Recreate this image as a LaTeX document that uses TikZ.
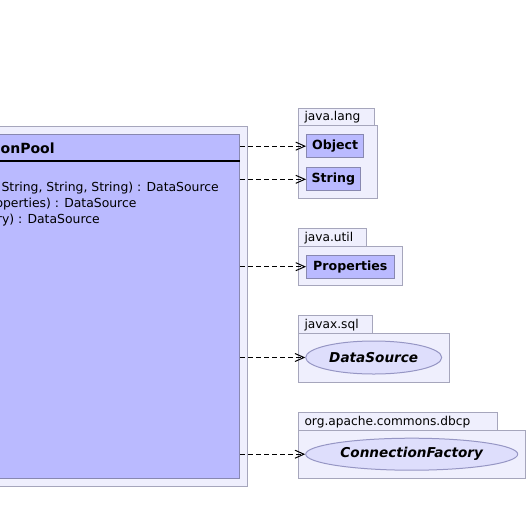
\documentclass[tikz,border=0pt]{standalone}
\usepackage{fontspec}
\setmainfont{DejaVu Sans}
\usetikzlibrary{arrows.meta,shapes.geometric}

\definecolor{clsfill}{RGB}{186,186,255}
\definecolor{clsline}{RGB}{136,136,176}
\definecolor{pkgfill}{RGB}{239,239,253}
\definecolor{pkgline}{RGB}{166,166,188}
\definecolor{intffill}{RGB}{222,222,252}
\definecolor{intfline}{RGB}{150,150,196}

\tikzset{
  pkgbody/.style={draw=pkgline, fill=pkgfill, line width=1pt, anchor=north west, inner sep=0pt},
  pkgtab/.style={draw=pkgline, fill=pkgfill, line width=1pt, anchor=north west, inner xsep=6pt, inner ysep=0pt,
    align=left, font=\fontsize{12.2}{14}\selectfont},
  clsbox/.style={draw=clsline, fill=clsfill, line width=1pt, anchor=north west, inner sep=0pt,
    font=\fontsize{12.6}{14}\selectfont\bfseries},
  intf/.style={draw=intfline, fill=intffill, line width=1pt, ellipse, inner sep=0pt,
    font=\fontsize{13.6}{15}\selectfont\bfseries\itshape},
  dep/.style={dash pattern=on 5pt off 3pt, line width=1pt, -{Straight Barb[length=9pt,width=8pt]}},
  member/.style={anchor=base east, inner sep=0pt, font=\fontsize{12.4}{14}\selectfont}
}

\begin{document}
\begin{tikzpicture}[x=1pt, y=-1pt]
  \useasboundingbox (0,0) rectangle (526,522);
  \clip (0,0) rectangle (526,522);

  % package holding the pool class
  \node[pkgbody, anchor=north east, minimum width=420pt, minimum height=360pt] at (248,126) (poolpkg) {};
  \node[clsbox, anchor=north east, minimum width=400pt, minimum height=344pt] at (240,134) (pool) {};
  \draw[line width=2pt] ([yshift=-27pt]pool.north west) -- ([yshift=-27pt]pool.north east);
  \node[anchor=base west, inner sep=0pt, font=\fontsize{14}{16}\selectfont\bfseries] at (0.5,153) (title) {onPool};
  \node[member] at (219,191) (m1) {String, String, String) : DataSource};
  \node[member] at (136.7,207) (m2) {operties) : DataSource};
  \node[member] at (100,223) (m3) {ory) : DataSource};

  % java.lang
  \node[pkgbody, minimum width=79.3pt, minimum height=73pt] at (298,125) (langbody) {};
  \node[pkgtab, text width=64pt, minimum height=16.7pt] at (298,108.3) (langtab) {java.lang};
  \node[clsbox, minimum width=57.3pt, minimum height=23.3pt] at (306,134) (obj) {Object};
  \node[clsbox, minimum width=53.7pt, minimum height=23pt] at (306,167.3) (str) {String};

  % java.util
  \node[pkgbody, minimum width=103.7pt, minimum height=39.3pt] at (298,246) (utilbody) {};
  \node[pkgtab, text width=55.7pt, minimum height=17.7pt] at (298,228.3) (utiltab) {java.util};
  \node[clsbox, minimum width=87.7pt, minimum height=23pt] at (306,254.7) (props) {Properties};

  % javax.sql
  \node[pkgbody, minimum width=151.3pt, minimum height=49pt] at (298,333.3) (sqlbody) {};
  \node[pkgtab, text width=61.7pt, minimum height=18.3pt] at (298,315) (sqltab) {javax.sql};
  \node[intf, minimum width=136pt, minimum height=33pt] at (373.7,357.5) (ds) {DataSource};

  % org.apache.commons.dbcp
  \node[pkgbody, minimum width=227pt, minimum height=48.3pt] at (298,430) (dbcpbody) {};
  \node[pkgtab, text width=186.7pt, minimum height=17.7pt] at (298,412.3) (dbcptab) {org.apache.commons.dbcp};
  \node[intf, minimum width=212pt, minimum height=32pt] at (411.7,454.2) (cf) {ConnectionFactory};

  \draw[dep] (pool.east |- obj.west) -- (obj.west);
  \draw[dep] (pool.east |- str.west) -- (str.west);
  \draw[dep] (pool.east |- props.west) -- (props.west);
  \draw[dep] (pool.east |- ds.west) -- (ds.west);
  \draw[dep] (pool.east |- cf.west) -- (cf.west);
\end{tikzpicture}
\end{document}
